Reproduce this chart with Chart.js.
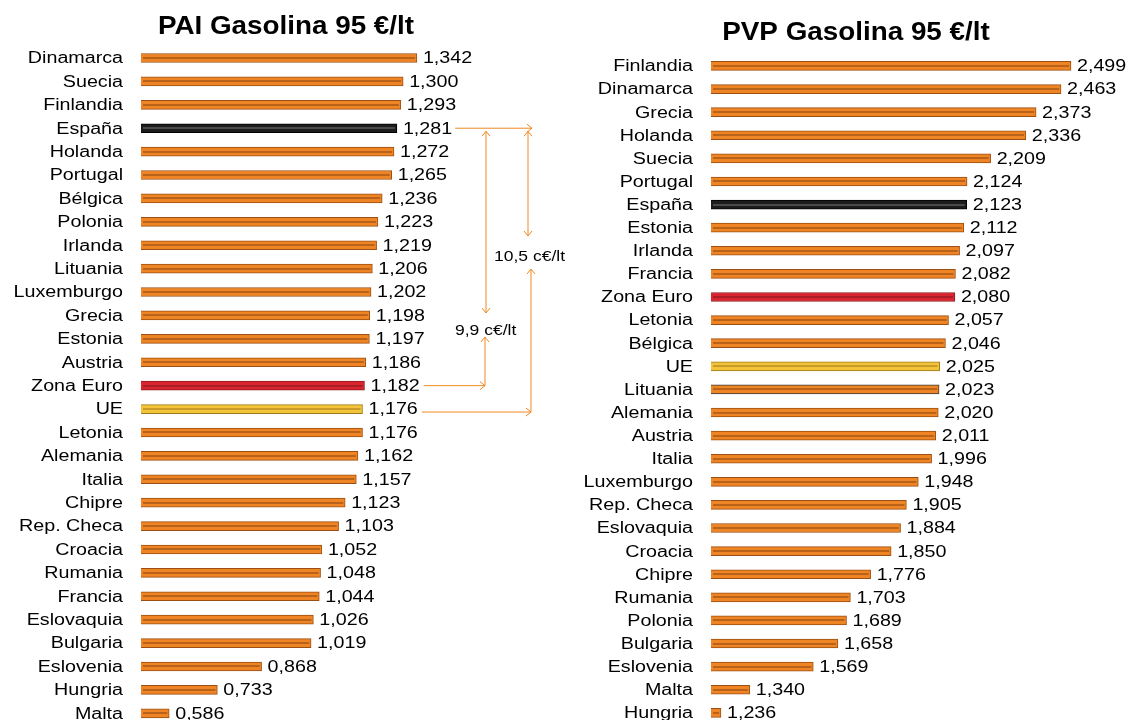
<!DOCTYPE html>
<html>
<head>
<meta charset="utf-8">
<script src="https://cdn.jsdelivr.net/npm/chart.js@4/dist/chart.umd.min.js"></script>
<style>
  html, body { margin: 0; padding: 0; background: #fff; overflow: hidden; }
  canvas { position: absolute; top: 0; }
  #pai { left: 0; }
  #pvp { left: 570px; }
</style>
</head>
<body>
<canvas id="pai" width="567" height="730"></canvas>
<canvas id="pvp" width="561" height="730"></canvas>
<script>
  // PAI (precio antes de impuestos) gasolina 95, €/lt
  const paiCountries = ['Dinamarca', 'Suecia', 'Finlandia', 'España', 'Holanda', 'Portugal', 'Bélgica',
    'Polonia', 'Irlanda', 'Lituania', 'Luxemburgo', 'Grecia', 'Estonia', 'Austria', 'Zona Euro', 'UE',
    'Letonia', 'Alemania', 'Italia', 'Chipre', 'Rep. Checa', 'Croacia', 'Rumania', 'Francia',
    'Eslovaquia', 'Bulgaria', 'Eslovenia', 'Hungria', 'Malta'];
  const paiValues = [1.342, 1.300, 1.293, 1.281, 1.272, 1.265, 1.236, 1.223, 1.219, 1.206, 1.202, 1.198,
    1.197, 1.186, 1.182, 1.176, 1.176, 1.162, 1.157, 1.123, 1.103, 1.052, 1.048, 1.044, 1.026, 1.019,
    0.868, 0.733, 0.586];

  // PVP (precio de venta al público) gasolina 95, €/lt
  const pvpCountries = ['Finlandia', 'Dinamarca', 'Grecia', 'Holanda', 'Suecia', 'Portugal', 'España',
    'Estonia', 'Irlanda', 'Francia', 'Zona Euro', 'Letonia', 'Bélgica', 'UE', 'Lituania', 'Alemania',
    'Austria', 'Italia', 'Luxemburgo', 'Rep. Checa', 'Eslovaquia', 'Croacia', 'Chipre', 'Rumania',
    'Polonia', 'Bulgaria', 'Eslovenia', 'Malta', 'Hungria'];
  const pvpValues = [2.499, 2.463, 2.373, 2.336, 2.209, 2.124, 2.123, 2.112, 2.097, 2.082, 2.080, 2.057,
    2.046, 2.025, 2.023, 2.020, 2.011, 1.996, 1.948, 1.905, 1.884, 1.850, 1.776, 1.703, 1.689, 1.658,
    1.569, 1.340, 1.236];

  const FONT = '"Liberation Sans", Arial, sans-serif';
  const ORANGE = '#F08A24';

  // bar colours: España black, Zona Euro red, UE yellow, rest orange
  function barStyle(name) {
    if (name === 'España') return { fill: '#1c1c1c', border: '#000000', inner: '#4a4a4a' };
    if (name === 'Zona Euro') return { fill: '#DA2530', border: '#8E1B1F', inner: '#A81E27' };
    if (name === 'UE') return { fill: '#F3C43A', border: '#9C7A1A', inner: '#C99C28' };
    return { fill: '#EE8423', border: '#9C4F12', inner: '#B8621A' };
  }

  const fmt = v => v.toFixed(3).replace('.', ',');

  function stretchText(ctx, text, x, y, sx, align) {
    ctx.save();
    ctx.translate(x, y);
    ctx.scale(sx, 1);
    ctx.textAlign = align;
    ctx.fillText(text, 0, 0);
    ctx.restore();
  }

  // titles, category labels, value labels and a bevel line inside each bar
  const sideLabels = {
    id: 'sideLabels',
    afterDatasetsDraw(chart, args, opts) {
      const ctx = chart.ctx;
      const area = chart.chartArea;
      const meta = chart.getDatasetMeta(0);
      const values = chart.data.datasets[0].data;
      const names = chart.data.labels;

      ctx.save();
      ctx.textBaseline = 'middle';
      ctx.fillStyle = '#000';

      meta.data.forEach((bar, i) => {
        const st = barStyle(names[i]);
        ctx.strokeStyle = st.inner;
        ctx.lineWidth = 1;
        const w = bar.x - area.left - 5;
        if (w > 0) ctx.strokeRect(area.left + 2.5, Math.round(bar.y) - 0.5, w, 1);

        ctx.font = '16px ' + FONT;
        stretchText(ctx, names[i], area.left - 18, bar.y + 1, 1.23, 'right');
        stretchText(ctx, fmt(values[i]), bar.x + 6, bar.y + 1, 1.23, 'left');
      });

      ctx.font = 'bold 26px ' + FONT;
      stretchText(ctx, opts.title, 286, opts.titleY, 1.07, 'center');
      ctx.restore();
    }
  };

  function arrowHead(ctx, x, y, dir) {
    const s = 5;
    ctx.beginPath();
    if (dir === 'right') { ctx.moveTo(x - s, y - s + 1); ctx.lineTo(x, y); ctx.lineTo(x - s, y + s - 1); }
    if (dir === 'up') { ctx.moveTo(x - s + 1, y + s); ctx.lineTo(x, y); ctx.lineTo(x + s - 1, y + s); }
    if (dir === 'down') { ctx.moveTo(x - s + 1, y - s); ctx.lineTo(x, y); ctx.lineTo(x + s - 1, y - s); }
    ctx.stroke();
  }

  function line(ctx, x1, y1, x2, y2) {
    ctx.beginPath();
    ctx.moveTo(x1, y1);
    ctx.lineTo(x2, y2);
    ctx.stroke();
  }

  // difference arrows España vs Zona Euro / UE on the PAI chart
  const gapArrows = {
    id: 'gapArrows',
    afterDraw(chart) {
      const ctx = chart.ctx;
      const meta = chart.getDatasetMeta(0);
      const names = chart.data.labels;
      const values = chart.data.datasets[0].data;
      const iEs = names.indexOf('España');
      const iZe = names.indexOf('Zona Euro');
      const iUe = names.indexOf('UE');
      const es = meta.data[iEs], ze = meta.data[iZe], ue = meta.data[iUe];

      ctx.save();
      ctx.font = '16px ' + FONT;
      const textEnd = i => meta.data[i].x + 6 + ctx.measureText(fmt(values[i])).width * 1.23;

      ctx.strokeStyle = ORANGE;
      ctx.lineWidth = 1;
      const xA = 486, xB = 530;

      // España reference line
      line(ctx, textEnd(iEs) + 3, es.y, xB + 2, es.y);
      arrowHead(ctx, xB + 2, es.y, 'right');

      // España - Zona Euro
      const dZe = ((values[iEs] - values[iZe]) * 100).toFixed(1).replace('.', ',') + ' c€/lt';
      const yTextA = 330;
      line(ctx, xA, es.y + 3, xA, yTextA - 17);
      arrowHead(ctx, xA, es.y + 3, 'up');
      arrowHead(ctx, xA, yTextA - 17, 'down');
      line(ctx, xA - 1, yTextA + 7, xA - 1, ze.y);
      arrowHead(ctx, xA - 1, yTextA + 7, 'up');
      line(ctx, textEnd(iZe) + 4, ze.y, xA - 1, ze.y);
      arrowHead(ctx, xA - 1, ze.y, 'right');

      // España - UE
      const dUe = ((values[iEs] - values[iUe]) * 100).toFixed(1).replace('.', ',') + ' c€/lt';
      const yTextB = 256;
      line(ctx, xB - 2, es.y + 3, xB - 2, yTextB - 20);
      arrowHead(ctx, xB - 2, es.y + 3, 'up');
      arrowHead(ctx, xB - 2, yTextB - 20, 'down');
      line(ctx, xB + 1, yTextB + 13, xB + 1, ue.y + 3);
      arrowHead(ctx, xB + 1, yTextB + 13, 'up');
      line(ctx, textEnd(iUe) + 4, ue.y + 3, xB + 1, ue.y + 3);
      arrowHead(ctx, xB + 1, ue.y + 3, 'right');

      ctx.fillStyle = '#000';
      ctx.textBaseline = 'middle';
      ctx.font = '14px ' + FONT;
      stretchText(ctx, dZe, 455, yTextA + 1, 1.25, 'left');
      stretchText(ctx, dUe, 494, yTextB + 1, 1.25, 'left');
      ctx.restore();
    }
  };

  function makeChart(id, names, values, xMin, xMax, padding, title, titleY, extraPlugins) {
    const styles = names.map(barStyle);
    const borders = styles.map(s => s.border);
    if (id === 'pvp') borders[names.indexOf('Lituania')] = '#3a3a3a';
    return new Chart(document.getElementById(id).getContext('2d'), {
      type: 'bar',
      data: {
        labels: names,
        datasets: [{
          data: values,
          backgroundColor: styles.map(s => s.fill),
          borderColor: borders,
          borderWidth: 1,
          borderSkipped: false,
          barThickness: 9
        }]
      },
      options: {
        indexAxis: 'y',
        responsive: false,
        animation: false,
        layout: { padding: padding },
        scales: {
          x: { min: xMin, max: xMax, display: false },
          y: { display: false }
        },
        plugins: {
          legend: { display: false },
          tooltip: { enabled: false },
          sideLabels: { title: title, titleY: titleY }
        }
      },
      plugins: [sideLabels].concat(extraPlugins)
    });
  }

  makeChart('pai', paiCountries, paiValues, 0.5, 1.8,
    { left: 141, right: 0, top: 46.3, bottom: 5 }, 'PAI Gasolina 95 €/lt', 27, [gapArrows]);

  makeChart('pvp', pvpCountries, pvpValues, 1.2, 2.6,
    { left: 141, right: 32, top: 54.4, bottom: 5.6 }, 'PVP Gasolina 95 €/lt', 33, []);
</script>
</body>
</html>
